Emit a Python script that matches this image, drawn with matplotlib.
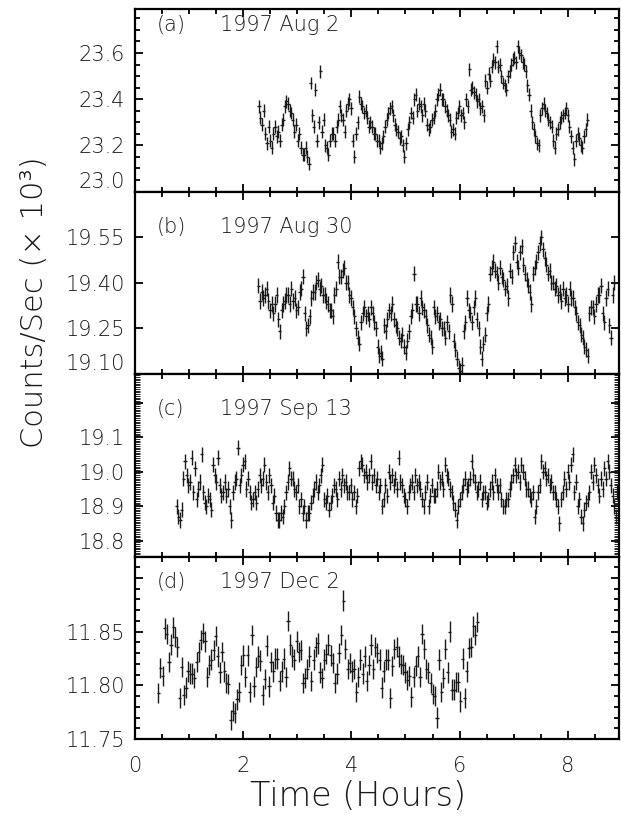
import numpy as np
import matplotlib
matplotlib.use("Agg")
import matplotlib.pyplot as plt
from matplotlib.ticker import FixedLocator, FixedFormatter, MultipleLocator

plt.rcParams['font.family'] = ['DejaVu Sans']
plt.rcParams['font.weight'] = 'light'

# ---- data (counts/sec in units of 10^3, time in hours) ----
panel_tags = ["(a)", "(b)", "(c)", "(d)"]
panel_dates = ["1997 Aug 2", "1997 Aug 30", "1997 Sep 13", "1997 Dec 2"]

aug02_span = [2.29, 8.36]
aug02_rate = [
    23.37, 23.32, 23.29, 23.35, 23.25, 23.21, 23.28, 23.22, 23.19, 23.25,
    23.28, 23.24, 23.26, 23.22, 23.29, 23.31, 23.37, 23.39, 23.38, 23.35,
    23.34, 23.31, 23.26, 23.29, 23.22, 23.25, 23.19, 23.16, 23.16, 23.19,
    23.15, 23.12, 23.47, 23.33, 23.28, 23.44, 23.22, 23.30, 23.52, 23.26,
    23.31, 23.20, 23.19, 23.16, 23.22, 23.25, 23.25, 23.22, 23.28, 23.31,
    23.37, 23.33, 23.31, 23.26, 23.35, 23.38, 23.40, 23.36, 23.22, 23.15,
    23.25, 23.30, 23.41, 23.38, 23.37, 23.34, 23.35, 23.32, 23.28, 23.30,
    23.28, 23.25, 23.25, 23.22, 23.22, 23.19, 23.21, 23.24, 23.28, 23.31,
    23.34, 23.36, 23.37, 23.33, 23.29, 23.27, 23.26, 23.23, 23.24, 23.20,
    23.15, 23.21, 23.27, 23.30, 23.34, 23.32, 23.40, 23.42, 23.35, 23.38,
    23.37, 23.33, 23.38, 23.35, 23.29, 23.27, 23.28, 23.31, 23.32, 23.35,
    23.40, 23.42, 23.44, 23.40, 23.40, 23.37, 23.35, 23.33, 23.31, 23.26,
    23.27, 23.25, 23.32, 23.34, 23.37, 23.33, 23.34, 23.30, 23.40, 23.37,
    23.53, 23.44, 23.45, 23.43, 23.42, 23.39, 23.40, 23.36, 23.37, 23.33,
    23.48, 23.45, 23.51, 23.48, 23.54, 23.57, 23.56, 23.63, 23.54, 23.55,
    23.50, 23.47, 23.46, 23.44, 23.50, 23.52, 23.55, 23.57, 23.58, 23.56,
    23.63, 23.60, 23.59, 23.56, 23.55, 23.52, 23.46, 23.42, 23.35, 23.30,
    23.27, 23.24, 23.21, 23.20, 23.33, 23.36, 23.38, 23.35, 23.34, 23.31,
    23.30, 23.28, 23.22, 23.19, 23.25, 23.27, 23.30, 23.32, 23.33, 23.34,
    23.36, 23.33, 23.28, 23.24, 23.19, 23.14, 23.22, 23.25, 23.23, 23.20,
    23.19, 23.24, 23.27, 23.31,
]

aug30_span = [2.28, 8.86]
aug30_rate = [
    19.39, 19.34, 19.37, 19.35, 19.36, 19.38, 19.34, 19.31, 19.33, 19.30,
    19.33, 19.36, 19.28, 19.24, 19.31, 19.33, 19.34, 19.36, 19.36, 19.33,
    19.38, 19.34, 19.35, 19.31, 19.32, 19.37, 19.38, 19.42, 19.30, 19.25,
    19.26, 19.29, 19.35, 19.37, 19.37, 19.40, 19.41, 19.38, 19.39, 19.36,
    19.36, 19.34, 19.33, 19.31, 19.31, 19.29, 19.36, 19.38, 19.47, 19.42,
    19.42, 19.44, 19.45, 19.40, 19.40, 19.36, 19.35, 19.32, 19.29, 19.25,
    19.22, 19.20, 19.27, 19.30, 19.32, 19.29, 19.30, 19.28, 19.32, 19.30,
    19.27, 19.25, 19.19, 19.16, 19.17, 19.15, 19.26, 19.24, 19.28, 19.31,
    19.30, 19.33, 19.28, 19.26, 19.25, 19.22, 19.21, 19.23, 19.19, 19.17,
    19.21, 19.24, 19.29, 19.31, 19.43, 19.33, 19.33, 19.30, 19.35, 19.32,
    19.31, 19.29, 19.26, 19.23, 19.22, 19.19, 19.32, 19.29, 19.30, 19.27,
    19.28, 19.25, 19.25, 19.22, 19.27, 19.24, 19.36, 19.33, 19.21, 19.18,
    19.15, 19.12, 19.11, 19.13, 19.24, 19.27, 19.35, 19.31, 19.30, 19.27,
    19.32, 19.35, 19.28, 19.25, 19.19, 19.15, 19.20, 19.23, 19.30, 19.33,
    19.43, 19.45, 19.47, 19.44, 19.43, 19.40, 19.45, 19.42, 19.41, 19.38,
    19.39, 19.35, 19.44, 19.42, 19.50, 19.53, 19.47, 19.45, 19.50, 19.52,
    19.46, 19.43, 19.41, 19.39, 19.37, 19.33, 19.43, 19.45, 19.47, 19.50,
    19.53, 19.55, 19.51, 19.48, 19.46, 19.43, 19.44, 19.40, 19.40, 19.38,
    19.39, 19.36, 19.37, 19.34, 19.38, 19.35, 19.36, 19.33, 19.38, 19.35,
    19.35, 19.32, 19.30, 19.27, 19.26, 19.23, 19.22, 19.19, 19.18, 19.16,
    19.30, 19.32, 19.32, 19.29, 19.33, 19.36, 19.36, 19.39, 19.30, 19.27,
    19.35, 19.38, 19.26, 19.22, 19.36, 19.40,
]

sep13_span = [0.77, 8.95]
sep13_rate = [
    18.90, 18.87, 18.86, 18.89, 18.98, 19.03, 18.99, 18.96, 18.97, 19.04,
    18.94, 19.01, 18.92, 18.95, 18.97, 19.05, 18.94, 18.91, 18.90, 18.93,
    18.92, 18.89, 19.02, 18.99, 18.97, 19.04, 18.96, 18.93, 18.94, 18.97,
    18.93, 18.95, 18.90, 18.86, 18.94, 18.97, 18.98, 19.07, 18.96, 18.99,
    19.02, 19.03, 18.95, 18.98, 18.94, 18.91, 18.92, 18.94, 18.91, 18.95,
    18.99, 18.96, 18.98, 19.02, 18.97, 18.94, 18.99, 18.96, 18.91, 18.93,
    18.88, 18.86, 18.86, 18.88, 18.87, 18.90, 18.94, 18.97, 19.01, 18.98,
    18.98, 18.95, 18.94, 18.96, 18.90, 18.92, 18.88, 18.90, 18.86, 18.88,
    18.88, 18.91, 18.93, 18.95, 18.97, 18.94, 18.96, 18.99, 19.02, 18.92,
    18.91, 18.93, 18.89, 18.91, 18.93, 18.96, 18.95, 18.92, 18.98, 18.95,
    18.99, 18.96, 18.97, 18.94, 18.94, 18.96, 18.92, 18.94, 18.90, 18.93,
    19.01, 19.03, 19.02, 18.99, 19.00, 18.97, 18.99, 19.03, 18.97, 18.99,
    18.96, 18.98, 18.94, 18.96, 18.90, 18.92, 18.96, 18.93, 19.00, 18.97,
    18.99, 18.96, 18.98, 18.95, 19.04, 18.97, 18.96, 18.93, 18.92, 18.90,
    18.94, 18.96, 18.97, 18.94, 18.99, 18.96, 18.97, 18.95, 18.92, 18.90,
    18.94, 18.97, 18.90, 18.93, 18.96, 18.93, 18.93, 18.95, 19.00, 18.97,
    18.98, 18.95, 19.02, 18.99, 18.98, 18.95, 18.94, 18.91, 18.89, 18.86,
    18.90, 18.92, 18.94, 18.96, 18.98, 18.95, 18.96, 18.98, 19.03, 18.99,
    18.97, 18.94, 18.95, 18.97, 18.92, 18.94, 18.94, 18.91, 18.92, 18.95,
    18.97, 18.94, 18.99, 18.96, 18.94, 18.96, 18.92, 18.90, 18.90, 18.92,
    18.92, 18.95, 18.97, 18.99, 19.02, 18.99, 19.00, 18.97, 19.02, 19.00,
    18.98, 18.95, 18.95, 18.93, 18.92, 18.94, 18.87, 18.90, 18.94, 18.96,
    19.03, 19.00, 19.01, 18.98, 18.99, 18.96, 18.97, 18.94, 18.94, 18.92,
    18.90, 18.85, 18.92, 18.94, 18.98, 18.95, 19.00, 18.97, 19.02, 19.05,
    18.94, 18.97, 18.90, 18.92, 18.87, 18.85, 18.89, 18.91, 18.92, 18.94,
    19.00, 18.97, 19.02, 18.99, 18.96, 18.93, 18.98, 18.95, 19.01, 18.98,
    19.03, 19.00, 18.96, 18.93, 18.90, 18.87, 18.94, 18.96,
]

dec02_span = [0.43, 6.33]
dec02_rate = [
    11.793, 11.816, 11.809, 11.853, 11.848, 11.822, 11.838, 11.854, 11.845, 11.836,
    11.788, 11.817, 11.791, 11.798, 11.813, 11.811, 11.811, 11.807, 11.822, 11.831,
    11.842, 11.849, 11.841, 11.808, 11.819, 11.824, 11.833, 11.846, 11.827, 11.812,
    11.831, 11.813, 11.802, 11.801, 11.768, 11.776, 11.774, 11.787, 11.794, 11.819,
    11.828, 11.808, 11.828, 11.794, 11.847, 11.799, 11.817, 11.827, 11.823, 11.791,
    11.806, 11.837, 11.799, 11.822, 11.813, 11.825, 11.825, 11.804, 11.813, 11.825,
    11.808, 11.860, 11.838, 11.827, 11.824, 11.841, 11.831, 11.833, 11.802, 11.807,
    11.815, 11.827, 11.804, 11.824, 11.836, 11.839, 11.812, 11.807, 11.824, 11.829,
    11.838, 11.828, 11.821, 11.802, 11.811, 11.830, 11.847, 11.879, 11.834, 11.815,
    11.821, 11.813, 11.815, 11.794, 11.808, 11.824, 11.811, 11.827, 11.804, 11.819,
    11.838, 11.815, 11.836, 11.830, 11.824, 11.798, 11.813, 11.824, 11.824, 11.788,
    11.818, 11.834, 11.836, 11.827, 11.820, 11.819, 11.812, 11.805, 11.809, 11.789,
    11.808, 11.818, 11.827, 11.808, 11.848, 11.834, 11.815, 11.812, 11.802, 11.792,
    11.790, 11.770, 11.824, 11.794, 11.807, 11.834, 11.812, 11.850, 11.796, 11.796,
    11.803, 11.803, 11.785, 11.825, 11.788, 11.813, 11.835, 11.836, 11.855, 11.847,
    11.859,
]

rate_errors = [0.028, 0.025, 0.022, 0.0095]
y_limits = [(23.0, 23.79), (19.10, 19.70), (18.754, 19.283), (11.75, 11.92)]
y_ticks = [[23.0, 23.2, 23.4, 23.6],
           [19.10, 19.25, 19.40, 19.55],
           [18.8, 18.9, 19.0, 19.1, 19.2],
           [11.75, 11.80, 11.85, 11.90]]
y_ticklabels = [["23.0", "23.2", "23.4", "23.6"],
                ["19.10", "19.25", "19.40", "19.55"],
                ["18.8", "18.9", "19.0", "19.1", ""],
                ["11.75", "11.80", "11.85", ""]]
y_minor = [0.05, None, 0.005, 0.01]

spans = [aug02_span, aug30_span, sep13_span, dec02_span]
rates = [aug02_rate, aug30_rate, sep13_rate, dec02_rate]

fig, axes = plt.subplots(4, 1, figsize=(6.21, 8.25), dpi=100, sharex=True)
fig.subplots_adjust(left=0.2174, right=0.997, top=0.989, bottom=0.1042, hspace=0)

tag_y = [0.91, 0.805, 0.81, 0.86]

for i, ax in enumerate(axes):
    rate = np.array(rates[i])
    t = np.linspace(spans[i][0], spans[i][1], len(rate))
    ax.errorbar(t, rate, yerr=rate_errors[i], xerr=0.03, fmt='none',
                ecolor='0.1', elinewidth=1.0, capsize=0)
    ax.set_xlim(0, 8.95)
    ax.set_ylim(*y_limits[i])
    ax.yaxis.set_major_locator(FixedLocator(y_ticks[i]))
    ax.yaxis.set_major_formatter(FixedFormatter(y_ticklabels[i]))
    if y_minor[i]:
        ax.yaxis.set_minor_locator(MultipleLocator(y_minor[i]))
    ax.xaxis.set_major_locator(MultipleLocator(2))
    ax.xaxis.set_minor_locator(MultipleLocator(0.5))
    ax.tick_params(which='both', direction='in', top=True, right=True,
                   width=1.3, labelsize=15, labelcolor='0.1')
    ax.tick_params(which='major', length=6)
    ax.tick_params(which='minor', length=3.5)
    ax.tick_params(axis='y', pad=7)
    for s in ax.spines.values():
        s.set_linewidth(1.6)
    ax.text(0.045, tag_y[i], panel_tags[i], transform=ax.transAxes,
            fontsize=15, va='center', ha='left', color='0.1')
    ax.text(0.175, tag_y[i], panel_dates[i], transform=ax.transAxes,
            fontsize=15, va='center', ha='left', color='0.1')

# the Sep 13 panel has a very fine comb of minor ticks
axes[2].tick_params(axis='y', which='minor', width=0.6, length=3.5)

# lowest labels in the top two panels sit above the frame line
for ax in axes[:2]:
    ax.get_yticklabels()[0].set_va('bottom')

axes[-1].tick_params(axis='x', pad=12)
axes[-1].set_xticks([0, 2, 4, 6, 8])
axes[-1].set_xticklabels(["0", "2", "4", "6", "8"])

fig.text(0.056, 0.634, "Counts/Sec (× 10³)", rotation=90, fontsize=22,
         ha='center', va='center', color='0.1')
fig.text(0.576, 0.034, "Time (Hours)", fontsize=24, ha='center', va='center',
         color='0.1')

fig.savefig("out.png", dpi=100)
